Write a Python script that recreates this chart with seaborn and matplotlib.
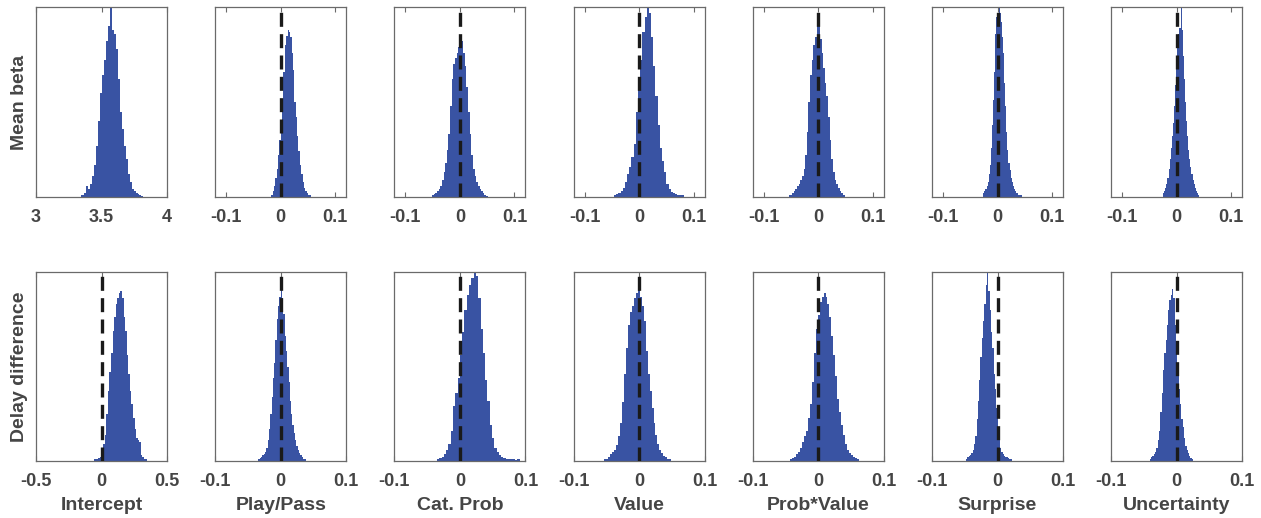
import numpy as np
import pandas as pd
import matplotlib
matplotlib.use("Agg")
import matplotlib.pyplot as plt
import seaborn as sns

sns.set_theme(style="white")
plt.rcParams['font.family'] = ['Liberation Sans', 'DejaVu Sans']

# ---------------- data ----------------
predictors = ["Intercept", "Play/Pass", "Cat. Prob", "Value", "Prob*Value", "Surprise", "Uncertainty"]
row_labels = ["Mean beta", "Delay difference"]

# x-axis limits and ticks per panel
top_xlim = [(3, 4)] + [(-0.12, 0.12)] * 6
top_xticks = [[3, 3.5, 4]] + [[-0.1, 0, 0.1]] * 6
top_xticklabels = [["3", "3.5", "4"]] + [["-0.1", "0", "0.1"]] * 6
bot_xlim = [(-0.5, 0.5)] + [(-0.1, 0.1)] * 6
bot_xticks = [[-0.5, 0, 0.5]] + [[-0.1, 0, 0.1]] * 6
bot_xticklabels = [["-0.5", "0", "0.5"]] + [["-0.1", "0", "0.1"]] * 6

# histogram bin ranges (lo, hi) and relative bin heights (fraction of axis height)
top_range = [(3.34, 3.82), (-0.0175, 0.055), (-0.051, 0.051), (-0.046, 0.082),
             (-0.054, 0.048), (-0.026, 0.044), (-0.025, 0.041)]
top_heights = [
    [0.01, 0.01, 0.02, 0.06, 0.04, 0.07, 0.11, 0.17, 0.27, 0.40, 0.55, 0.64, 0.72, 0.82, 0.90, 1.0,
     0.88, 0.86, 0.78, 0.62, 0.45, 0.36, 0.27, 0.20, 0.12, 0.08, 0.04, 0.03, 0.02, 0.015, 0.01, 0.005],
    [0.01, 0.03, 0.06, 0.10, 0.15, 0.22, 0.30, 0.38, 0.49, 0.66, 0.80, 0.85, 0.88, 0.87, 0.84, 0.76,
     0.67, 0.50, 0.42, 0.32, 0.24, 0.17, 0.12, 0.08, 0.05, 0.03, 0.02, 0.01, 0.01],
    [0.01, 0.015, 0.02, 0.03, 0.04, 0.06, 0.09, 0.13, 0.18, 0.25, 0.33, 0.48, 0.62, 0.70, 0.73, 0.76,
     0.79, 0.80, 0.82, 0.76, 0.69, 0.58, 0.45, 0.33, 0.22, 0.15, 0.11, 0.08, 0.06, 0.04, 0.03, 0.02,
     0.01, 0.005],
    [0.01, 0.015, 0.02, 0.03, 0.05, 0.08, 0.12, 0.16, 0.21, 0.28, 0.45, 0.60, 0.72, 0.87, 0.95, 1.0,
     0.97, 0.84, 0.69, 0.53, 0.38, 0.26, 0.19, 0.13, 0.07, 0.04, 0.025, 0.02, 0.015, 0.01, 0.01, 0.01],
    [0.01, 0.01, 0.02, 0.03, 0.04, 0.06, 0.07, 0.09, 0.11, 0.15, 0.22, 0.34, 0.50, 0.64, 0.72, 0.80,
     0.84, 0.92, 0.90, 0.83, 0.76, 0.68, 0.60, 0.53, 0.42, 0.30, 0.20, 0.13, 0.09, 0.07, 0.05, 0.03,
     0.02, 0.01],
    [0.02, 0.03, 0.04, 0.06, 0.08, 0.12, 0.17, 0.26, 0.38, 0.51, 0.66, 0.86, 0.95, 0.97, 1.05, 0.97,
     0.92, 0.84, 0.76, 0.60, 0.48, 0.34, 0.25, 0.18, 0.14, 0.10, 0.08, 0.06, 0.04, 0.03, 0.02, 0.02,
     0.01, 0.01, 0.01],
    [0.02, 0.03, 0.05, 0.07, 0.10, 0.15, 0.20, 0.26, 0.32, 0.39, 0.48, 0.59, 0.70, 0.80, 0.86, 0.89,
     1.05, 0.88, 0.74, 0.62, 0.50, 0.40, 0.32, 0.25, 0.20, 0.16, 0.12, 0.09, 0.07, 0.05, 0.03, 0.02,
     0.01],
]

bot_range = [(-0.06, 0.348), (-0.034, 0.038), (-0.035, 0.091), (-0.053, 0.049),
             (-0.043, 0.062), (-0.048, 0.022), (-0.041, 0.025)]
bot_heights = [
    [0.01, 0.01, 0.01, 0.015, 0.02, 0.04, 0.09, 0.14, 0.25, 0.37, 0.47, 0.57, 0.69, 0.76, 0.83, 0.86,
     0.89, 0.90, 0.86, 0.76, 0.69, 0.56, 0.46, 0.37, 0.30, 0.23, 0.17, 0.12, 0.11, 0.10, 0.03, 0.02,
     0.01, 0.01],
    [0.01, 0.015, 0.02, 0.03, 0.035, 0.05, 0.07, 0.11, 0.17, 0.25, 0.34, 0.44, 0.52, 0.64, 0.75, 0.82,
     0.87, 0.91, 0.86, 0.78, 0.66, 0.58, 0.50, 0.42, 0.32, 0.25, 0.19, 0.15, 0.11, 0.08, 0.06, 0.04,
     0.03, 0.02, 0.01, 0.01],
    [0.01, 0.015, 0.02, 0.035, 0.06, 0.09, 0.16, 0.29, 0.36, 0.44, 0.56, 0.68, 0.80, 0.88, 0.93, 0.97,
     1.05, 0.98, 0.86, 0.70, 0.57, 0.43, 0.32, 0.19, 0.12, 0.07, 0.05, 0.03, 0.02, 0.015, 0.01, 0.01,
     0.008, 0.008, 0.006, 0.008],
    [0.01, 0.01, 0.02, 0.035, 0.045, 0.06, 0.085, 0.13, 0.20, 0.31, 0.46, 0.60, 0.72, 0.79, 0.82, 0.86,
     0.89, 0.915, 0.87, 0.82, 0.74, 0.58, 0.46, 0.37, 0.28, 0.20, 0.14, 0.09, 0.06, 0.04, 0.025, 0.02,
     0.01, 0.008],
    [0.01, 0.015, 0.02, 0.035, 0.05, 0.07, 0.10, 0.13, 0.16, 0.23, 0.30, 0.42, 0.57, 0.70, 0.77, 0.84,
     0.87, 0.89, 0.87, 0.83, 0.76, 0.66, 0.56, 0.45, 0.33, 0.26, 0.19, 0.14, 0.09, 0.06, 0.04, 0.03,
     0.02, 0.015, 0.01],
    [0.01, 0.02, 0.025, 0.03, 0.04, 0.06, 0.09, 0.13, 0.22, 0.32, 0.43, 0.55, 0.65, 0.74, 0.83, 0.93,
     1.05, 0.90, 0.80, 0.68, 0.60, 0.46, 0.38, 0.28, 0.18, 0.12, 0.07, 0.05, 0.035, 0.025, 0.02, 0.02,
     0.015, 0.01, 0.01],
    [0.01, 0.02, 0.025, 0.035, 0.05, 0.07, 0.11, 0.16, 0.26, 0.36, 0.48, 0.57, 0.64, 0.72, 0.80, 0.85,
     0.88, 0.91, 0.86, 0.72, 0.63, 0.50, 0.38, 0.30, 0.22, 0.18, 0.12, 0.08, 0.06, 0.04, 0.025, 0.015,
     0.01],
]

# ---------------- style ----------------
BAR = "#3953a3"
SPINE = "#6a6a6a"
TXT = "#454545"

W, H = 1261, 518
fig = plt.figure(figsize=(W / 100, H / 100), dpi=100)

lefts = [36 + 179.2 * i for i in range(7)]
ax_w = 131
rows = [(7, 197), (272, 461)]


def draw_panel(ax, lo, hi, heights, xlim, xticks, xticklabels, zero_line):
    heights = np.asarray(heights, dtype=float)
    n = len(heights)
    step = (hi - lo) / n
    centers = lo + step * (np.arange(n) + 0.5)
    df = pd.DataFrame({"x": centers, "w": heights})
    sns.histplot(data=df, x="x", weights="w", bins=n, binrange=(lo, hi), ax=ax,
                 element="step", fill=True, color=BAR, alpha=1.0, linewidth=0, stat="count")
    if zero_line:
        ax.axvline(0, color="#1a1a1a", lw=2.4, ls=(0, (4.2, 2.2)), zorder=5)
    ax.set_xlim(*xlim)
    ax.set_ylim(0, 1)
    ax.set_xticks(xticks)
    ax.set_xticklabels(xticklabels)
    ax.set_yticks([])
    ax.set_xlabel("")
    ax.set_ylabel("")
    ax.tick_params(axis="x", direction="in", length=3.5, width=0.8, color=SPINE,
                   top=True, bottom=True, pad=9, labelsize=13, labelcolor=TXT)
    for lab in ax.get_xticklabels():
        lab.set_fontweight("bold")
    for s in ax.spines.values():
        s.set_color(SPINE)
        s.set_linewidth(0.9)
        s.set_visible(True)


for r, (ytop, ybot) in enumerate(rows):
    for c in range(7):
        ax = fig.add_axes([lefts[c] / W, 1 - ybot / H, ax_w / W, (ybot - ytop) / H])
        if r == 0:
            lo, hi = top_range[c]
            draw_panel(ax, lo, hi, top_heights[c], top_xlim[c], top_xticks[c],
                       top_xticklabels[c], zero_line=(c != 0))
        else:
            lo, hi = bot_range[c]
            draw_panel(ax, lo, hi, bot_heights[c], bot_xlim[c], bot_xticks[c],
                       bot_xticklabels[c], zero_line=True)
            ax.set_xlabel(predictors[c], fontsize=14, fontweight="bold", color=TXT, labelpad=5)
        if c == 0:
            ax.set_ylabel(row_labels[r], fontsize=14, fontweight="bold", color=TXT, labelpad=6)

fig.savefig("out.png", dpi=100)
